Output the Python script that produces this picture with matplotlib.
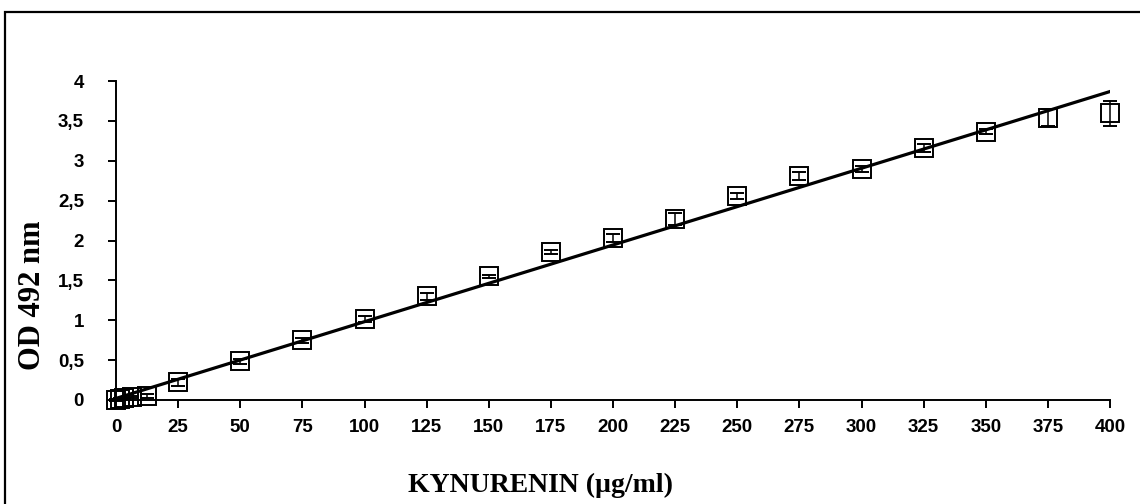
import matplotlib
matplotlib.use("Agg")
import matplotlib.pyplot as plt
from matplotlib.patches import Rectangle
import numpy as np

# ==========================================================
# DATA
# ==========================================================
conc = [0, 1.5625, 3.125, 6.25, 12.5, 25, 50, 75, 100, 125, 150, 175,
        200, 225, 250, 275, 300, 325, 350, 375, 400]
od = [0.0, 0.01, 0.02, 0.04, 0.05, 0.22, 0.486, 0.75, 1.015, 1.30, 1.55, 1.855,
      2.035, 2.27, 2.56, 2.81, 2.90, 3.156, 3.364, 3.54, 3.595]
od_err = [0.01, 0.01, 0.01, 0.01, 0.02, 0.04, 0.03, 0.03, 0.04, 0.04, 0.02, 0.03,
          0.05, 0.07, 0.04, 0.05, 0.04, 0.05, 0.03, 0.11, 0.16]

fit_slope = 0.00962
fit_intercept = 0.02

x_ticks = list(range(0, 401, 25))
y_ticks = [0, 0.5, 1, 1.5, 2, 2.5, 3, 3.5, 4]
y_tick_labels = ["0", "0,5", "1", "1,5", "2", "2,5", "3", "3,5", "4"]

# ==========================================================
# FIGURE
# ==========================================================
fig = plt.figure(figsize=(11.4, 5.04), dpi=100)
ax = fig.add_axes([116 / 1140, 104 / 504, 994 / 1140, 319 / 504])

# outer frame (runs off the right / bottom edge like the original)
fig.patches.append(Rectangle((4.5 / 1140, -0.2), 1.2, 1.2 - 12 / 504,
                             transform=fig.transFigure, fill=False,
                             edgecolor="black", linewidth=1.6))

# regression line
fx = np.array([0, 400])
ax.plot(fx, fit_slope * fx + fit_intercept, color="black", lw=2.3, zorder=2)

# standards with error bars
ax.errorbar(conc, od, yerr=od_err, fmt="s", ms=12.5, mfc="none", mec="black",
            mew=1.4, ecolor="black", elinewidth=1.1, capsize=5, capthick=1.1,
            zorder=3, clip_on=False)

ax.set_xlim(0, 400)
ax.set_ylim(0, 4)
ax.set_xticks(x_ticks)
ax.set_yticks(y_ticks)
ax.set_yticklabels(y_tick_labels)

for side in ["top", "right"]:
    ax.spines[side].set_visible(False)
for side in ["left", "bottom"]:
    ax.spines[side].set_linewidth(1.4)

ax.tick_params(axis="both", direction="out", length=6, width=1.4,
               labelsize=13.5)
ax.tick_params(axis="y", pad=17)
ax.tick_params(axis="x", pad=8)
for lbl in ax.get_xticklabels() + ax.get_yticklabels():
    lbl.set_fontfamily("Liberation Sans")
    lbl.set_fontweight("bold")

fig.text(540 / 1140, 0.036, "KYNURENIN (µg/ml)", ha="center", va="center",
         fontfamily="Liberation Serif", fontweight="bold", fontsize=20)
fig.text(33 / 1140, 0.415, "OD 492 nm", ha="center", va="center",
         rotation=90, fontfamily="Liberation Serif", fontweight="bold",
         fontsize=22)

fig.savefig("out.png", dpi=100, facecolor="white")
